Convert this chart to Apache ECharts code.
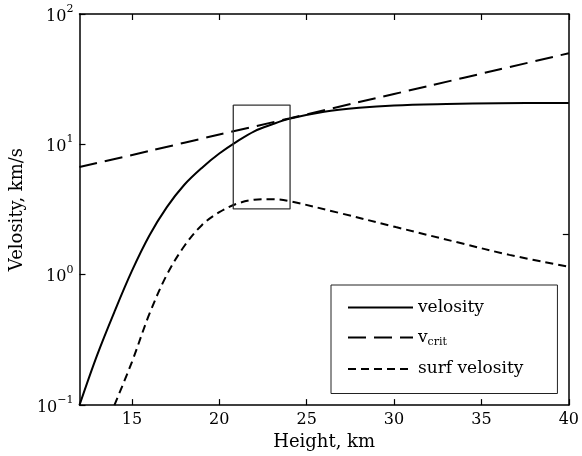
<!DOCTYPE html>
<html>
<head>
<meta charset="utf-8">
<script src="https://cdn.jsdelivr.net/npm/echarts@6/dist/echarts.min.js"></script>
<style>html,body{margin:0;padding:0;background:#fff}#c{width:582px;height:456px}</style>
</head>
<body>
<div id="c"></div>
<script>
// Data
var xTicks = [15, 20, 25, 30, 35, 40];
var yTicks = [0.1, 1, 10, 100];

var velHeight = [12, 13, 14, 15, 16, 17, 18, 19, 20, 21, 22, 23, 24, 26, 28, 30, 33, 36, 40];
var velValue  = [0.1, 0.24, 0.52, 1.07, 2.0, 3.3, 4.9, 6.6, 8.5, 10.5, 12.6, 14.2, 15.7, 17.8, 19.1, 19.9, 20.4, 20.7, 20.8];

var critHeight = [12, 16, 20, 24, 28, 32, 36, 40];
var critValue  = [6.7, 8.9, 11.9, 15.8, 21.1, 28.1, 37.5, 50];

var surfHeight = [14, 15, 16, 17, 18, 19, 20, 21, 22, 23, 24, 26.9, 30.1, 33.8, 36.6, 40];
var surfValue  = [0.1, 0.214, 0.5, 1.0, 1.66, 2.4, 3.02, 3.5, 3.76, 3.8, 3.67, 2.97, 2.32, 1.75, 1.42, 1.15];

var boxHeight = [20.8, 24.05, 24.05, 20.8, 20.8];
var boxValue  = [20, 20, 3.2, 3.2, 20];

var rightTick = [2.05];

function zip(a, b) { return a.map(function (v, i) { return [v, b[i]]; }); }

var FONT = 'DejaVu Serif';
var chart = echarts.init(document.getElementById('c'));
chart.setOption({
  animation: false,
  backgroundColor: '#fff',
  textStyle: { fontFamily: FONT, color: '#000' },
  grid: { left: 74, right: 9, top: 14, bottom: 50, show: false },
  xAxis: [{
    type: 'value', min: 12, max: 40, position: 'bottom',
    name: 'Height, km', nameLocation: 'middle', nameGap: 25,
    nameTextStyle: { fontFamily: FONT, fontSize: 18, color: '#000' },
    axisLine: { show: true, onZero: false, lineStyle: { color: '#000', width: 1.5 } },
    axisTick: { show: true, inside: true, length: 6, customValues: xTicks, lineStyle: { color: '#000', width: 1.2 } },
    axisLabel: { customValues: xTicks, fontFamily: FONT, fontSize: 16, color: '#000', margin: 7 },
    splitLine: { show: false }
  }, {
    type: 'value', min: 12, max: 40, position: 'top',
    axisLine: { show: true, onZero: false, lineStyle: { color: '#000', width: 1.5 } },
    axisTick: { show: true, inside: true, length: 6, customValues: xTicks, lineStyle: { color: '#000', width: 1.2 } },
    axisLabel: { show: false },
    splitLine: { show: false }
  }],
  yAxis: [{
    type: 'log', logBase: 10, min: 0.1, max: 100, position: 'left',
    name: 'Velosity, km/s', nameLocation: 'middle', nameGap: 45, nameRotate: 90,
    nameTextStyle: { fontFamily: FONT, fontSize: 18, color: '#000' },
    axisLine: { show: true, onZero: false, lineStyle: { color: '#000', width: 1.5 } },
    axisTick: { show: true, inside: true, length: 6, customValues: yTicks, lineStyle: { color: '#000', width: 1.2 } },
    axisLabel: {
      customValues: yTicks, margin: 6,
      formatter: function (v) {
        var e = Math.round(Math.log10(v));
        return '{b|10}{s|' + (e < 0 ? '\u2212' + (-e) : e) + '}';
      },
      rich: {
        b: { fontFamily: FONT, fontSize: 16, color: '#000', verticalAlign: 'bottom' },
        s: { fontFamily: FONT, fontSize: 11, color: '#000', verticalAlign: 'top', padding: [0, 0, 10, 0] }
      }
    },
    splitLine: { show: false }
  }, {
    type: 'log', logBase: 10, min: 0.1, max: 100, position: 'right',
    axisLine: { show: true, onZero: false, lineStyle: { color: '#000', width: 1.5 } },
    axisTick: { show: true, inside: true, length: 6, customValues: rightTick, lineStyle: { color: '#000', width: 1.2 } },
    axisLabel: { show: false },
    splitLine: { show: false }
  }],
  legend: {
    orient: 'vertical', left: 331, top: 285,
    data: ['velosity', 'v_crit', 'surf velosity'],
    itemWidth: 65, itemHeight: 14, itemGap: 13,
    padding: [14, 34, 16, 16],
    borderColor: '#222', borderWidth: 1, borderRadius: 0,
    backgroundColor: '#fff',
    itemStyle: { opacity: 0 },
    textStyle: {
      fontFamily: FONT, fontSize: 17, color: '#000',
      rich: {
        v: { fontFamily: FONT, fontSize: 17, color: '#000' },
        sub: { fontFamily: FONT, fontSize: 11, color: '#000', verticalAlign: 'bottom', padding: [9, 0, 0, 0] }
      }
    },
    formatter: function (n) { return n === 'v_crit' ? '{v|v}{sub|crit}' : n; }
  },
  series: [{
    name: 'velosity', type: 'line', data: zip(velHeight, velValue), smooth: 0.35,
    symbol: 'none', clip: true, color: '#000',
    lineStyle: { color: '#000', width: 2, type: 'solid' }
  }, {
    name: 'v_crit', type: 'line', data: zip(critHeight, critValue), smooth: 0.3,
    symbol: 'none', clip: true, color: '#000',
    lineStyle: { color: '#000', width: 2, type: [18, 8] }
  }, {
    name: 'surf velosity', type: 'line', data: zip(surfHeight, surfValue), smooth: 0.35,
    symbol: 'none', clip: true, color: '#000',
    lineStyle: { color: '#000', width: 2, type: [8, 5] }
  }, {
    name: 'box', type: 'line', data: zip(boxHeight, boxValue), smooth: false,
    symbol: 'none', clip: true, color: '#333',
    lineStyle: { color: '#333', width: 1.3, type: 'solid' }
  }]
});
</script>
</body>
</html>
